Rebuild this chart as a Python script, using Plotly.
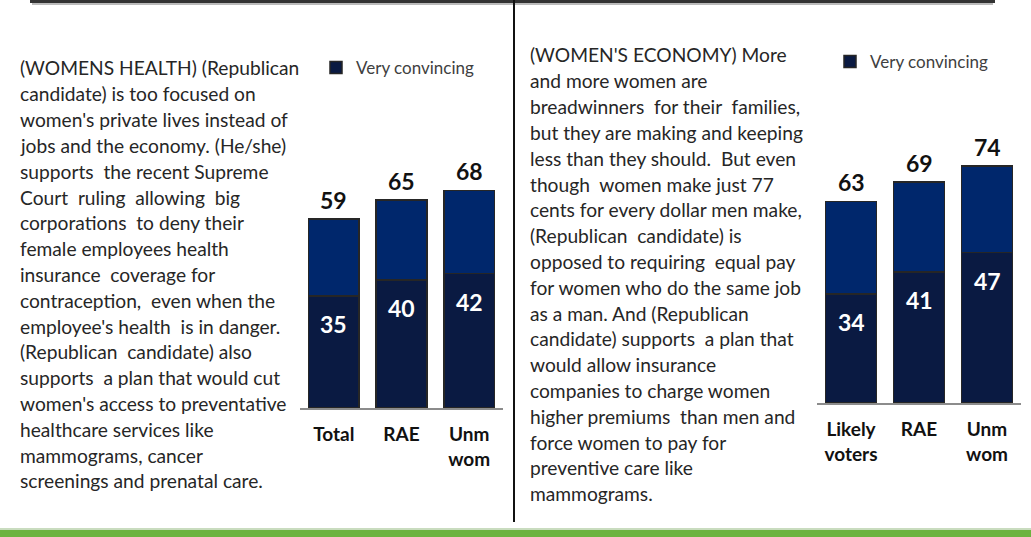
import plotly.graph_objects as go

W, H = 1031, 537

# ---------------- data ----------------
left_categories = ["Total", "RAE", "Unm<br>wom"]
left_total = [59, 65, 68]
left_very = [35, 40, 42]

right_categories = ["Likely<br>voters", "RAE", "Unm<br>wom"]
right_total = [63, 69, 74]
right_very = [34, 41, 47]

legend_label = "Very convincing"

left_text = [
    "(WOMENS HEALTH) (Republican",
    "candidate) is too focused on",
    "women's private lives instead of",
    "jobs and the economy. (He/she)",
    "supports  the recent Supreme",
    "Court  ruling  allowing  big",
    "corporations  to deny their",
    "female employees health",
    "insurance  coverage for",
    "contraception,  even when the",
    "employee's health  is in danger.",
    "(Republican  candidate) also",
    "supports  a plan that would cut",
    "women's access to preventative",
    "healthcare services like",
    "mammograms, cancer",
    "screenings and prenatal care.",
]

right_text = [
    "(WOMEN'S ECONOMY) More",
    "and more women are",
    "breadwinners  for their  families,",
    "but they are making and keeping",
    "less than they should.  But even",
    "though  women make just 77",
    "cents for every dollar men make,",
    "(Republican  candidate) is",
    "opposed to requiring  equal pay",
    "for women who do the same job",
    "as a man. And (Republican",
    "candidate) supports  a plan that",
    "would allow insurance",
    "companies to charge women",
    "higher premiums  than men and",
    "force women to pay for",
    "preventive care like",
    "mammograms.",
]

# ---------------- styling ----------------
DARK = "#0a1a42"
BLUE = "#00276c"
OUTLINE = "#262626"
TEXT = "#262626"
BODY_FONT = "Lato"
BODY_SIZE = 19.2
LINE_H = 25.8


def px(x):
    return x / W


def py(y):
    return 1 - y / H


fig = go.Figure()

panels = [
    dict(cats=left_categories, total=left_total, very=left_very, xa="x", ya="y",
         legend="legend"),
    dict(cats=right_categories, total=right_total, very=right_very, xa="x2", ya="y2",
         legend="legend2"),
]

annotations = []
for p in panels:
    idx = list(range(len(p["cats"])))
    rest = [t - v for t, v in zip(p["total"], p["very"])]
    fig.add_trace(go.Bar(
        x=idx, y=p["very"], name=legend_label, marker_color=DARK,
        marker_line=dict(color=OUTLINE, width=1.5), width=0.75,
        xaxis=p["xa"], yaxis=p["ya"], legend=p["legend"], showlegend=True,
        hoverinfo="skip",
    ))
    fig.add_trace(go.Bar(
        x=idx, y=rest, name="Total convincing", marker_color=BLUE,
        marker_line=dict(color=OUTLINE, width=1.5), width=0.75,
        xaxis=p["xa"], yaxis=p["ya"], showlegend=False, hoverinfo="skip",
    ))
    for i, (t, v) in enumerate(zip(p["total"], p["very"])):
        annotations.append(dict(
            x=i, y=t, xref=p["xa"], yref=p["ya"], text=f"<b>{t}</b>",
            showarrow=False, yanchor="bottom", yshift=3,
            font=dict(family="Lato", size=23, color="#111111"),
        ))
        annotations.append(dict(
            x=i, y=v, xref=p["xa"], yref=p["ya"], text=f"<b>{v}</b>",
            showarrow=False, yanchor="top", yshift=-12,
            font=dict(family="Lato", size=23, color="white"),
        ))

# body text lines
for k, line in enumerate(left_text):
    annotations.append(dict(
        x=px(18), y=py(68 + k * LINE_H), xref="paper", yref="paper",
        xanchor="left", yanchor="middle", text=line, showarrow=False,
        font=dict(family=BODY_FONT, size=BODY_SIZE, color=TEXT),
    ))
for k, line in enumerate(right_text):
    annotations.append(dict(
        x=px(528), y=py(55 + k * LINE_H), xref="paper", yref="paper",
        xanchor="left", yanchor="middle", text=line, showarrow=False,
        font=dict(family=BODY_FONT, size=BODY_SIZE, color=TEXT),
    ))

axis_common = dict(showgrid=False, zeroline=False)
xaxis_common = dict(
    **axis_common, tickmode="array", range=[-0.5, 2.5], showline=True,
    linecolor="#8c8c8c", linewidth=2, ticks="outside", ticklen=8,
    tickcolor="rgba(0,0,0,0)", fixedrange=True,
    tickfont=dict(family="Lato", size=19, color="#111111"),
)

fig.update_layout(
    width=W, height=H,
    margin=dict(l=0, r=0, t=0, b=0),
    paper_bgcolor="white", plot_bgcolor="white",
    barmode="stack",
    xaxis=dict(**xaxis_common, domain=[px(300), px(503)],
               tickvals=[0, 1, 2], ticktext=[f"<b>{c}</b>" for c in left_categories],
               anchor="y"),
    yaxis=dict(**axis_common, domain=[py(408), py(88)], range=[0, 100],
               visible=False, anchor="x"),
    xaxis2=dict(**xaxis_common, domain=[px(817), px(1021)],
                tickvals=[0, 1, 2], ticktext=[f"<b>{c}</b>" for c in right_categories],
                anchor="y2"),
    yaxis2=dict(**axis_common, domain=[py(403), py(83)], range=[0, 100],
                visible=False, anchor="x2"),
    legend=dict(x=px(316), y=py(68), xanchor="left", yanchor="middle",
                bgcolor="rgba(0,0,0,0)", itemwidth=30,
                font=dict(family="Lato", size=17, color="#404040")),
    legend2=dict(x=px(830), y=py(62), xanchor="left", yanchor="middle",
                 bgcolor="rgba(0,0,0,0)", itemwidth=30,
                 font=dict(family="Lato", size=17, color="#404040")),
    annotations=annotations,
    shapes=[
        dict(type="line", xref="paper", yref="paper", x0=px(30), x1=px(995),
             y0=py(1.5), y1=py(1.5), line=dict(color="#333333", width=3)),
        dict(type="line", xref="paper", yref="paper", x0=px(32), x1=px(993),
             y0=py(4), y1=py(4), line=dict(color="#bbbbbb", width=2)),
        dict(type="line", xref="paper", yref="paper", x0=px(514), x1=px(514),
             y0=py(0), y1=py(522), line=dict(color="#111111", width=2)),
        dict(type="rect", xref="paper", yref="paper", x0=0, x1=1,
             y0=py(528), y1=py(530), line=dict(width=0), fillcolor="#c9dcbf"),
        dict(type="rect", xref="paper", yref="paper", x0=0, x1=1,
             y0=0, y1=py(530), line=dict(width=0), fillcolor="#6cb33f"),
    ],
)

fig.write_html(
    "out.html",
    config={"displayModeBar": False},
    post_script="document.body.style.margin='0';document.body.style.overflow='hidden';",
)
